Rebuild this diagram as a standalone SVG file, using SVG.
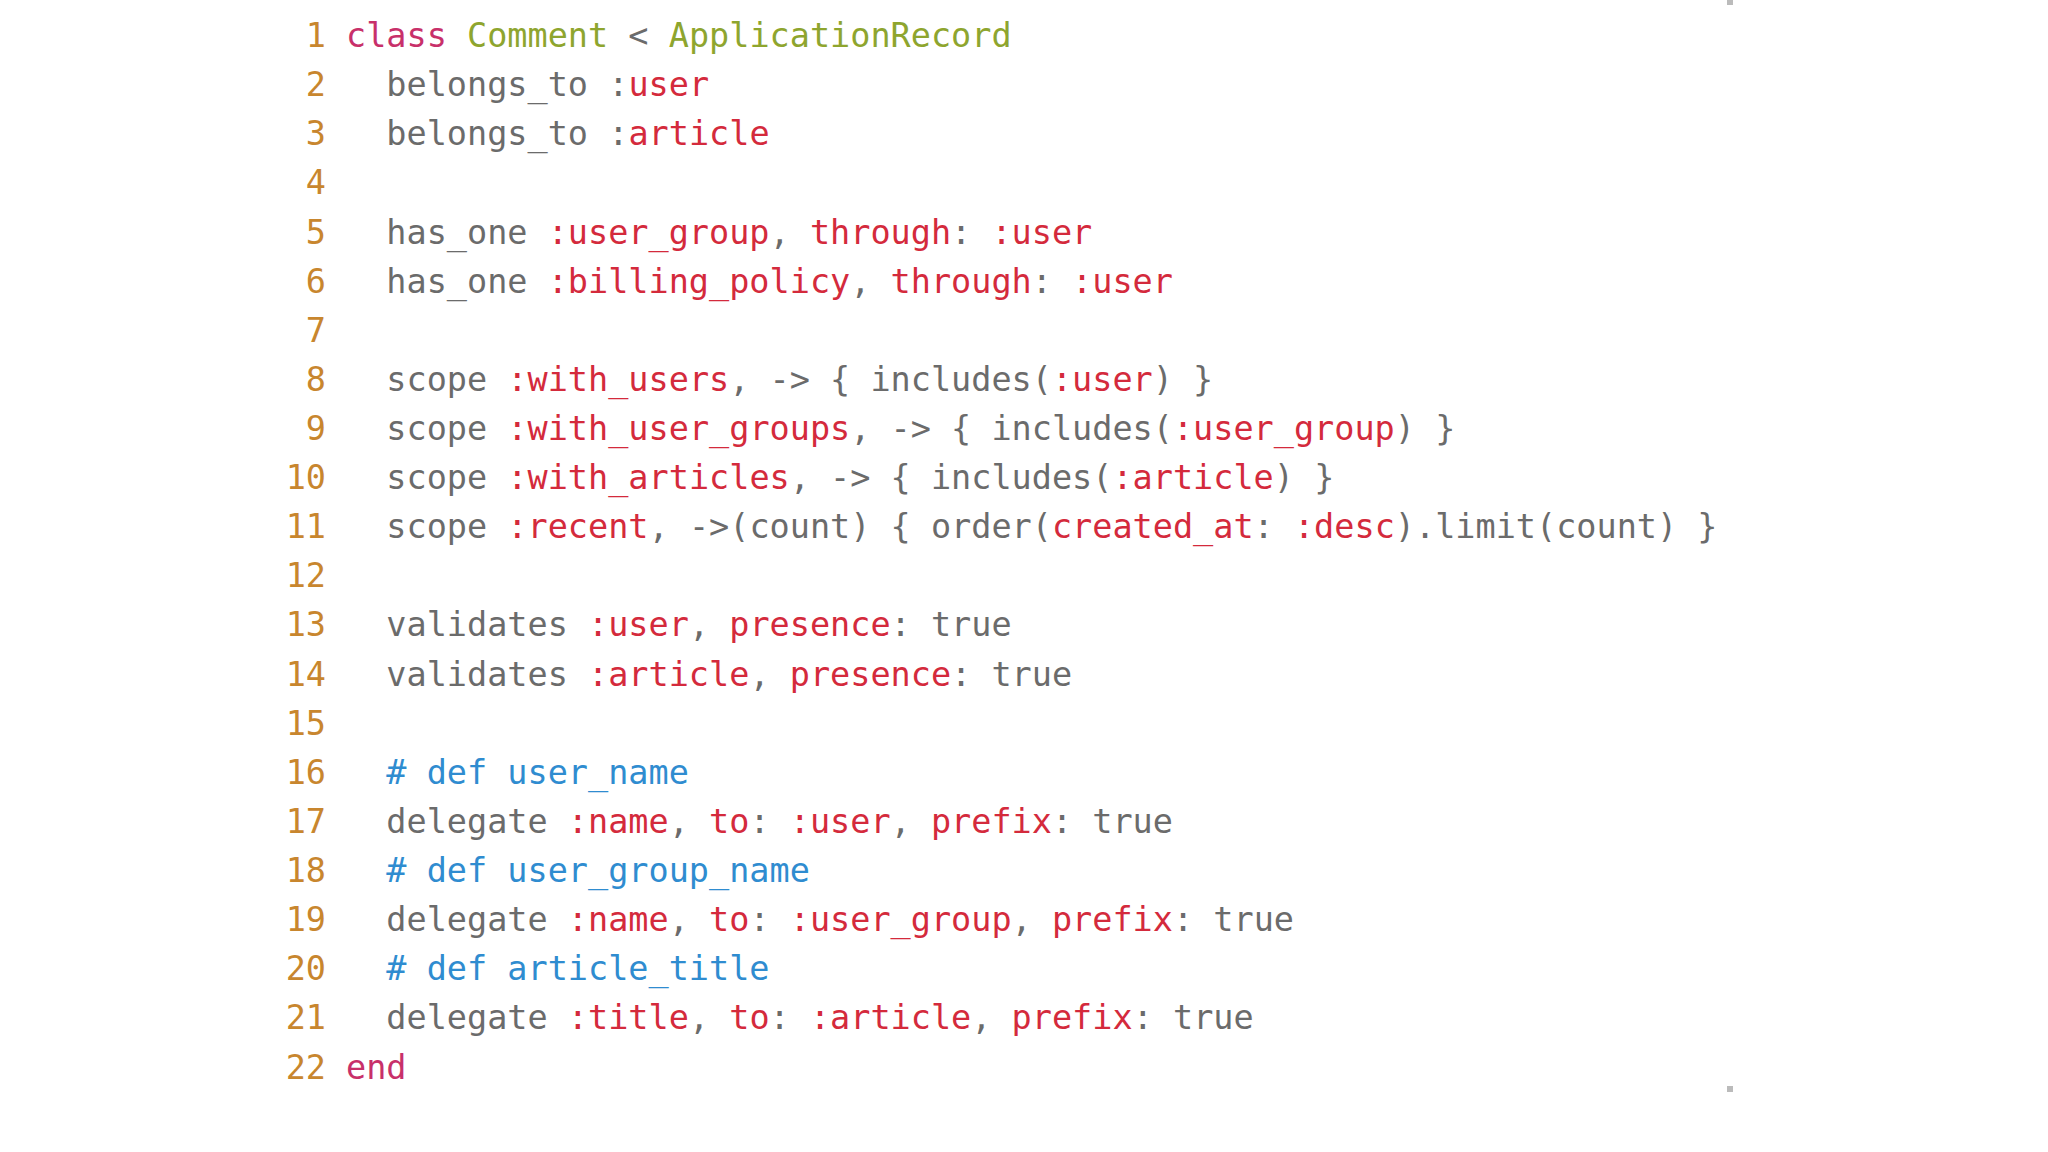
<svg xmlns="http://www.w3.org/2000/svg" width="2048" height="1152" viewBox="0 0 2048 1152">
<style>
text{font-family:"DejaVu Sans Mono","Liberation Mono",monospace;font-size:33.5px;white-space:pre}
.n{fill:#c8862e;text-anchor:end}
.t{fill:#6b6b6b}
.k{fill:#c8306a}
.c{fill:#8ea52e}
.s{fill:#d42a3c}
.m{fill:#2f8cd0}
</style>
<rect width="2048" height="1152" fill="#fff"/>
<rect x="1727" y="0" width="6" height="5" fill="#bbb"/>
<rect x="1727" y="1086" width="6" height="6" fill="#bbb"/>
<g id="numbers">
<text class="n" x="326" y="47">1</text>
<text class="n" x="326" y="96">2</text>
<text class="n" x="326" y="145">3</text>
<text class="n" x="326" y="194">4</text>
<text class="n" x="326" y="244">5</text>
<text class="n" x="326" y="293">6</text>
<text class="n" x="326" y="342">7</text>
<text class="n" x="326" y="391">8</text>
<text class="n" x="326" y="440">9</text>
<text class="n" x="326" y="489">10</text>
<text class="n" x="326" y="538">11</text>
<text class="n" x="326" y="587">12</text>
<text class="n" x="326" y="636">13</text>
<text class="n" x="326" y="686">14</text>
<text class="n" x="326" y="735">15</text>
<text class="n" x="326" y="784">16</text>
<text class="n" x="326" y="833">17</text>
<text class="n" x="326" y="882">18</text>
<text class="n" x="326" y="931">19</text>
<text class="n" x="326" y="980">20</text>
<text class="n" x="326" y="1029">21</text>
<text class="n" x="326" y="1079">22</text>
</g>
<g id="code" xml:space="preserve">
<text x="346" y="47"><tspan class="k">class</tspan> <tspan class="c">Comment</tspan><tspan class="t"> &lt; </tspan><tspan class="c">ApplicationRecord</tspan></text>
<text x="346" y="96" class="t">  belongs_to :<tspan class="s">user</tspan></text>
<text x="346" y="145" class="t">  belongs_to :<tspan class="s">article</tspan></text>
<text x="346" y="244" class="t">  has_one <tspan class="s">:user_group</tspan>, <tspan class="s">through</tspan>: <tspan class="s">:user</tspan></text>
<text x="346" y="293" class="t">  has_one <tspan class="s">:billing_policy</tspan>, <tspan class="s">through</tspan>: <tspan class="s">:user</tspan></text>
<text x="346" y="391" class="t">  scope <tspan class="s">:with_users</tspan>, -&gt; { includes(<tspan class="s">:user</tspan>) }</text>
<text x="346" y="440" class="t">  scope <tspan class="s">:with_user_groups</tspan>, -&gt; { includes(<tspan class="s">:user_group</tspan>) }</text>
<text x="346" y="489" class="t">  scope <tspan class="s">:with_articles</tspan>, -&gt; { includes(<tspan class="s">:article</tspan>) }</text>
<text x="346" y="538" class="t">  scope <tspan class="s">:recent</tspan>, -&gt;(count) { order(<tspan class="s">created_at</tspan>: <tspan class="s">:desc</tspan>).limit(count) }</text>
<text x="346" y="636" class="t">  validates <tspan class="s">:user</tspan>, <tspan class="s">presence</tspan>: true</text>
<text x="346" y="686" class="t">  validates <tspan class="s">:article</tspan>, <tspan class="s">presence</tspan>: true</text>
<text x="346" y="784" class="m">  # def user_name</text>
<text x="346" y="833" class="t">  delegate <tspan class="s">:name</tspan>, <tspan class="s">to</tspan>: <tspan class="s">:user</tspan>, <tspan class="s">prefix</tspan>: true</text>
<text x="346" y="882" class="m">  # def user_group_name</text>
<text x="346" y="931" class="t">  delegate <tspan class="s">:name</tspan>, <tspan class="s">to</tspan>: <tspan class="s">:user_group</tspan>, <tspan class="s">prefix</tspan>: true</text>
<text x="346" y="980" class="m">  # def article_title</text>
<text x="346" y="1029" class="t">  delegate <tspan class="s">:title</tspan>, <tspan class="s">to</tspan>: <tspan class="s">:article</tspan>, <tspan class="s">prefix</tspan>: true</text>
<text x="346" y="1079" class="k">end</text>
</g>
</svg>
